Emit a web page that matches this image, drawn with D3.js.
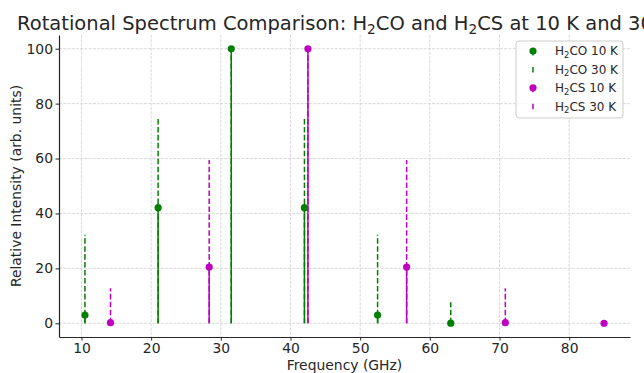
<!DOCTYPE html>
<html>
<head>
<meta charset="utf-8">
<script src="https://cdn.jsdelivr.net/npm/d3@7"></script>
<style>
  body { margin: 0; background: #fff; }
  svg { display: block; font-family: "DejaVu Sans", sans-serif; }
</style>
</head>
<body>
<svg id="chart" width="644" height="373"></svg>
<script>
// line frequencies (GHz)
const freqH2CO = [10.5, 21.0, 31.5, 42.0, 52.5, 63.0];
const freqH2CS = [14.17, 28.33, 42.5, 56.67, 70.83, 85.0];

// relative intensities
const h2co10 = [3.0, 42.1, 100, 42.1, 3.0, 0.04];
const h2co30 = [32.2, 75.1, 100, 75.1, 32.2, 7.7];
const h2cs10 = [0.2, 20.5, 100, 20.5, 0.2, 0];
const h2cs30 = [12.8, 59.5, 100, 59.5, 12.8, 0.9];

const xTicks = [10, 20, 30, 40, 50, 60, 70, 80];
const yTicks = [0, 20, 40, 60, 80, 100];

const GREEN = "#008000";
const MAGENTA = "#bf00bf";
const TEXT = "#262626";

const series = [
  { label: ["H", "2", "CO 10 K"], freq: freqH2CO, values: h2co10, color: GREEN, dashed: false, marker: true },
  { label: ["H", "2", "CO 30 K"], freq: freqH2CO, values: h2co30, color: GREEN, dashed: true, marker: false },
  { label: ["H", "2", "CS 10 K"], freq: freqH2CS, values: h2cs10, color: MAGENTA, dashed: false, marker: true },
  { label: ["H", "2", "CS 30 K"], freq: freqH2CS, values: h2cs30, color: MAGENTA, dashed: true, marker: false },
];

const margin = { top: 35, right: 14, bottom: 36, left: 59 };
const width = 644, height = 373;

const svg = d3.select("#chart");

// 5% padding like matplotlib autoscale
const allFreq = freqH2CO.concat(freqH2CS);
const [fMin, fMax] = d3.extent(allFreq);
const fPad = (fMax - fMin) * 0.05;
const x = d3.scaleLinear()
  .domain([fMin - fPad, fMax + fPad])
  .range([margin.left, width - margin.right]);

const y = d3.scaleLinear()
  .domain([-5, 105])
  .range([height - margin.bottom, margin.top]);

// grid
const grid = svg.append("g")
  .attr("stroke", "#cfcfcf")
  .attr("stroke-width", 0.8)
  .attr("stroke-dasharray", "2.96,1.28");

grid.selectAll("line.vx")
  .data(xTicks)
  .join("line")
  .attr("x1", d => x(d)).attr("x2", d => x(d))
  .attr("y1", y.range()[1]).attr("y2", y.range()[0]);

grid.selectAll("line.hy")
  .data(yTicks)
  .join("line")
  .attr("x1", x.range()[0]).attr("x2", x.range()[1])
  .attr("y1", d => y(d)).attr("y2", d => y(d));

// stems
series.forEach(s => {
  const g = svg.append("g");
  g.selectAll("line")
    .data(s.freq.map((f, i) => ({ f, v: s.values[i] })))
    .join("line")
    .attr("x1", d => x(d.f)).attr("x2", d => x(d.f))
    .attr("y1", y(0)).attr("y2", d => y(d.v))
    .attr("stroke", s.color)
    .attr("stroke-width", 1.5)
    .attr("stroke-dasharray", s.dashed ? "5.55,2.4" : null);

  if (s.marker) {
    g.selectAll("circle")
      .data(s.freq.map((f, i) => ({ f, v: s.values[i] })))
      .join("circle")
      .attr("cx", d => x(d.f))
      .attr("cy", d => y(d.v))
      .attr("r", 3.6)
      .attr("fill", s.color);
  }
});

// axes
const xAxis = svg.append("g")
  .attr("transform", `translate(0,${height - margin.bottom})`)
  .call(d3.axisBottom(x).tickValues(xTicks).tickSize(3.5).tickPadding(2.5).tickSizeOuter(0));

const yAxis = svg.append("g")
  .attr("transform", `translate(${margin.left},0)`)
  .call(d3.axisLeft(y).tickValues(yTicks).tickSize(3.5).tickPadding(2.5).tickSizeOuter(0));

[xAxis, yAxis].forEach(a => {
  a.select(".domain").attr("stroke", TEXT).attr("stroke-width", 1.2);
  a.selectAll(".tick line").attr("stroke", TEXT).attr("stroke-width", 1);
  a.selectAll(".tick text")
    .attr("fill", TEXT)
    .attr("font-size", 13.9)
    .attr("font-family", "DejaVu Sans, sans-serif");
});

// axis labels
svg.append("text")
  .attr("x", (x.range()[0] + x.range()[1]) / 2)
  .attr("y", 370)
  .attr("text-anchor", "middle")
  .attr("font-size", 13.9)
  .attr("fill", TEXT)
  .text("Frequency (GHz)");

svg.append("text")
  .attr("transform", `translate(20.5,${(y.range()[0] + y.range()[1]) / 2}) rotate(-90)`)
  .attr("text-anchor", "middle")
  .attr("font-size", 13.9)
  .attr("fill", TEXT)
  .text("Relative Intensity (arb. units)");

// text with subscript parts: [normal, sub, normal, ...]
function subText(sel, parts, size) {
  parts.forEach((p, i) => {
    const isSub = i % 2 === 1;
    sel.append("tspan")
      .attr("font-size", isSub ? size * 0.7 : size)
      .attr("dy", isSub ? size * 0.22 : (i > 0 ? -size * 0.22 : 0))
      .text(p);
  });
}

// title (centred on the axes, runs past the right edge as in the original)
const title = svg.append("text")
  .attr("x", (x.range()[0] + x.range()[1]) / 2)
  .attr("y", 30)
  .attr("text-anchor", "middle")
  .attr("fill", TEXT);
subText(title, ["Rotational Spectrum Comparison: H", "2", "CO and H", "2", "CS at 10 K and 30 K"], 19.5);

// legend
const legend = svg.append("g").attr("transform", "translate(516,41)");
legend.append("rect")
  .attr("width", 107)
  .attr("height", 77)
  .attr("rx", 3)
  .attr("fill", "#fff")
  .attr("fill-opacity", 0.8)
  .attr("stroke", "#cccccc")
  .attr("stroke-width", 1);

const item = legend.selectAll("g.item")
  .data(series)
  .join("g")
  .attr("class", "item")
  .attr("transform", (d, i) => `translate(0,${10 + i * 18.4})`);

item.append("line")
  .attr("x1", 17).attr("x2", 17)
  .attr("y1", -2.5).attr("y2", 4.5)
  .attr("stroke", d => d.color)
  .attr("stroke-width", 1.5)
  .attr("stroke-dasharray", d => d.dashed ? "5.55,2.4" : null);

item.filter(d => d.marker)
  .append("circle")
  .attr("cx", 17).attr("cy", 0)
  .attr("r", 3.6)
  .attr("fill", d => d.color);

item.append("text")
  .attr("x", 39)
  .attr("y", 4.3)
  .attr("fill", TEXT)
  .each(function (d) { subText(d3.select(this), d.label, 12); });
</script>
</body>
</html>
